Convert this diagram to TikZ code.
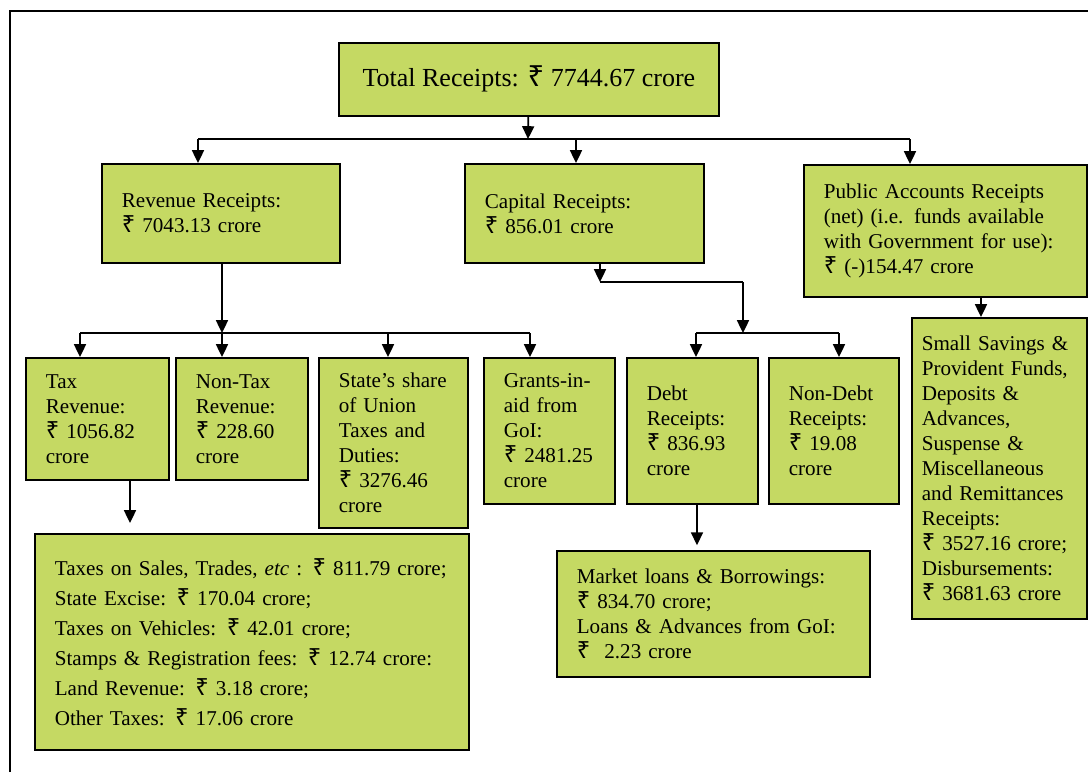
\documentclass[tikz,border=0pt]{standalone}
\usepackage{fontspec}
\setmainfont{Liberation Serif}
\newfontfamily\rupeefont[Scale=1.12]{Noto Sans}
\newcommand\rs{{\rupeefont ₹}~}
\usetikzlibrary{arrows.meta}
\definecolor{boxgreen}{RGB}{197,217,99}

\begin{document}
\begin{tikzpicture}[x=0.025cm, y=-0.025cm,
      box/.style={draw, line width=1.2pt, fill=boxgreen, anchor=north west, align=left,
        inner xsep=0.5cm, inner ysep=0pt, font=\fontsize{15pt}{17.8pt}\selectfont},
      arr/.style={line width=1.2pt, -{Triangle[length=0.32cm, width=0.3cm]}},
      link/.style={line width=1.2pt}]

    \useasboundingbox (0,0) rectangle (1088,772);
    \draw[line width=1.3pt] (10,772) -- (10,11) -- (1088,11);

    % 1. caixas
    \node[box, align=center, minimum width=9.5cm, minimum height=1.825cm,
          font=\fontsize{18.5pt}{22pt}\selectfont] (total) at (338,42) {Total Receipts: \rs 7744.67 crore};

    \node[box, text width=4.95cm, minimum height=2.475cm] (rev) at (101,163) {Revenue Receipts:\\\rs 7043.13 crore};
    \node[box, text width=4.975cm, minimum height=2.475cm] (cap) at (464,163) {Capital Receipts:\\\rs 856.01 crore};
    \node[box, text width=6.075cm, minimum height=3.3cm] (pub) at (803,164)
      {Public Accounts Receipts\\(net) (i.e. funds available\\with Government for use):\\\rs (-)154.47 crore};

    \node[box, text width=2.575cm, minimum height=3.05cm] (tax) at (25,357) {Tax\\Revenue:\\\rs 1056.82\\crore};
    \node[box, text width=2.3cm, minimum height=3.05cm] (ntax) at (175,357) {Non-Tax\\Revenue:\\\rs 228.60\\crore};
    \node[box, text width=2.725cm, minimum height=4.25cm] (share) at (318,357)
      {State’s share\\of Union\\Taxes and\\Duties:\\\rs 3276.46\\crore};
    \node[box, text width=2.275cm, minimum height=3.65cm] (grant) at (483,357) {Grants-in-\\aid from\\GoI:\\\rs 2481.25\\crore};
    \node[box, text width=2.275cm, minimum height=3.65cm] (debt) at (626,357) {Debt\\Receipts:\\\rs 836.93\\crore};
    \node[box, text width=2.25cm, minimum height=3.65cm] (ndebt) at (768,357) {Non-Debt\\Receipts:\\\rs 19.08\\crore};
    \node[box, inner xsep=0.25cm, text width=3.875cm, minimum height=7.525cm] (small) at (911,317)
      {Small Savings \&\\Provident Funds,\\Deposits \&\\Advances,\\Suspense \&\\Miscellaneous\\and Remittances\\Receipts:\\\rs 3527.16 crore;\\Disbursements:\\\rs 3681.63 crore};

    \node[box, text width=9.85cm, minimum height=5.4cm, font=\fontsize{15pt}{21.3pt}\selectfont] (taxes) at (34,533)
      {Taxes on Sales, Trades, \textit{etc} : \rs 811.79 crore;\\State Excise: \rs 170.04 crore;\\Taxes on Vehicles: \rs 42.01 crore;\\Stamps \& Registration fees: \rs 12.74 crore:\\Land Revenue: \rs 3.18 crore;\\Other Taxes: \rs 17.06 crore};
    \node[box, text width=6.825cm, minimum height=3.15cm] (market) at (556,550)
      {Market loans \& Borrowings:\\\rs 834.70 crore;\\Loans \& Advances from GoI:\\\rs ~2.23 crore};

    % 2. ligacoes
    \coordinate (bus1) at (528,139);
    \coordinate (c1) at (198,139);
    \coordinate (c2) at (576,139);
    \coordinate (c3) at (910,139);
    \draw[arr] (total) -- (bus1);
    \draw[link] (c1) -- (c3);
    \foreach \c/\b in {c1/rev, c2/cap, c3/pub}
      \draw[arr] (\c) -- (\c |- \b.north);

    \coordinate (r1) at (80,333);
    \coordinate (r2) at (222,333);
    \coordinate (r3) at (388,333);
    \coordinate (r4) at (530,333);
    \draw[arr] (rev.south -| r2) -- (r2);
    \draw[link] (r1) -- (r4);
    \foreach \c/\b in {r1/tax, r2/ntax, r3/share, r4/grant}
      \draw[arr] (\c) -- (\c |- \b.north);

    \coordinate (k0) at (600,282);
    \coordinate (k1) at (743,282);
    \coordinate (d1) at (696,333);
    \coordinate (d2) at (839,333);
    \draw[arr] (cap.south -| k0) -- (k0);
    \draw[link] (k0) -- (k1);
    \draw[arr] (k1) -- (k1 |- d1);
    \draw[link] (d1) -- (d2);
    \foreach \c/\b in {d1/debt, d2/ndebt}
      \draw[arr] (\c) -- (\c |- \b.north);

    \coordinate (pq) at (981,300);
    \draw[arr] (pub.south -| pq) -- (small.north -| pq);

    \coordinate (tq) at (130,500);
    \draw[arr, shorten >=0.25cm] (tax.south -| tq) -- (taxes.north -| tq);

    \coordinate (dq) at (697,520);
    \draw[arr, shorten >=0.12cm] (debt.south -| dq) -- (market.north -| dq);

\end{tikzpicture}
\end{document}
